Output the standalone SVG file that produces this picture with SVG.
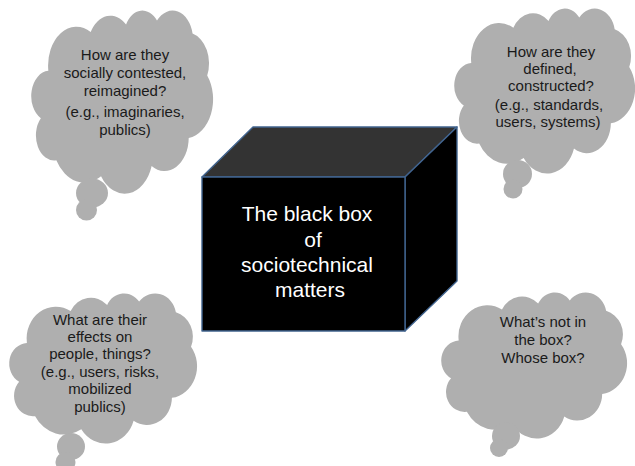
<svg xmlns="http://www.w3.org/2000/svg" xmlns:xlink="http://www.w3.org/1999/xlink" width="635" height="466" viewBox="0 0 635 466">
<defs>
<path id="cloud" d="M 9.028 33.264 A 15.632 21.273 0 0 1 32.418 12.041 A 12.345 16.822 0 0 1 51.980 7.945 A 10.104 13.762 0 0 1 69.057 5.744 A 11.243 15.266 0 0 1 88.700 12.907 A 12.345 16.836 0 0 1 96.803 35.786 A 15.683 21.343 0 0 1 86.583 69.910 A 13.391 18.211 0 0 1 66.100 85.211 A 15.630 21.331 0 0 1 38.147 90.886 A 17.870 24.405 0 0 1 13.436 82.104 A 10.093 13.699 0 0 1 4.892 59.135 A 10.058 13.762 0 0 1 9.028 33.264 Z"/>
<style>
.cl{fill:#afafaf;}
.t{font-family:"Liberation Sans",Arial,sans-serif;font-size:15px;fill:#1a1a1a;text-anchor:middle;}
.bt{font-family:"Liberation Sans",Arial,sans-serif;font-size:21px;fill:#ffffff;text-anchor:middle;}
.edge{stroke:#41648f;stroke-width:1.4;stroke-linejoin:round;}
</style>
</defs>
<rect width="635" height="466" fill="#ffffff"/>
<g id="cloud-contested">
<use xlink:href="#cloud" class="cl" transform="translate(32,10) scale(1.81,1.83)"/>
<ellipse class="cl" cx="92" cy="193" rx="16" ry="14.5"/>
<circle class="cl" cx="86.5" cy="210" r="10.5"/>
<text class="t"><tspan x="125" y="60">How are they</tspan><tspan x="125" y="78">socially contested,</tspan><tspan x="125" y="96">reimagined?</tspan><tspan x="125" y="117">(e.g., imaginaries,</tspan><tspan x="125" y="135">publics)</tspan></text>
</g>
<g id="cloud-defined">
<use xlink:href="#cloud" class="cl" transform="translate(455,8) scale(1.80,1.65)"/>
<ellipse class="cl" cx="517.5" cy="174" rx="14.5" ry="14"/>
<circle class="cl" cx="513" cy="189" r="9.5"/>
<text class="t"><tspan x="551" y="57">How are they</tspan><tspan x="550" y="74">defined,</tspan><tspan x="551" y="91">constructed?</tspan><tspan x="549" y="110">(e.g., standards,</tspan><tspan x="548" y="127">users, systems)</tspan></text>
</g>
<g id="cloud-effects">
<use xlink:href="#cloud" class="cl" transform="translate(10,293) scale(1.87,1.50)"/>
<ellipse class="cl" cx="71" cy="446.5" rx="14" ry="13.5"/>
<circle class="cl" cx="65.5" cy="462" r="10"/>
<text class="t"><tspan x="100" y="325">What are their</tspan><tspan x="100" y="342">effects on</tspan><tspan x="100" y="359">people, things?</tspan><tspan x="100" y="377">(e.g., users, risks,</tspan><tspan x="100" y="394">mobilized</tspan><tspan x="100" y="412">publics)</tspan></text>
</g>
<g id="cloud-whose">
<use xlink:href="#cloud" class="cl" transform="translate(442,292) scale(1.85,1.46)"/>
<ellipse class="cl" cx="506" cy="436" rx="14" ry="13.5"/>
<circle class="cl" cx="499" cy="448" r="9"/>
<text class="t"><tspan x="543" y="327">What’s not in</tspan><tspan x="543" y="345">the box?</tspan><tspan x="543" y="363">Whose box?</tspan></text>
</g>
<g id="black-box">
<polygon class="edge" points="202,177 253,127 457,127 405,177" fill="#333333"/>
<polygon class="edge" points="405,177 457,127 457,281 405,331" fill="#000000"/>
<rect class="edge" x="202" y="177" width="203" height="154" fill="#000000"/>
<text class="bt"><tspan x="307" y="221">The black box</tspan><tspan x="313" y="247">of</tspan><tspan x="307" y="272">sociotechnical</tspan><tspan x="310" y="297">matters</tspan></text>
</g>
<g id="connectors"/>
</svg>
